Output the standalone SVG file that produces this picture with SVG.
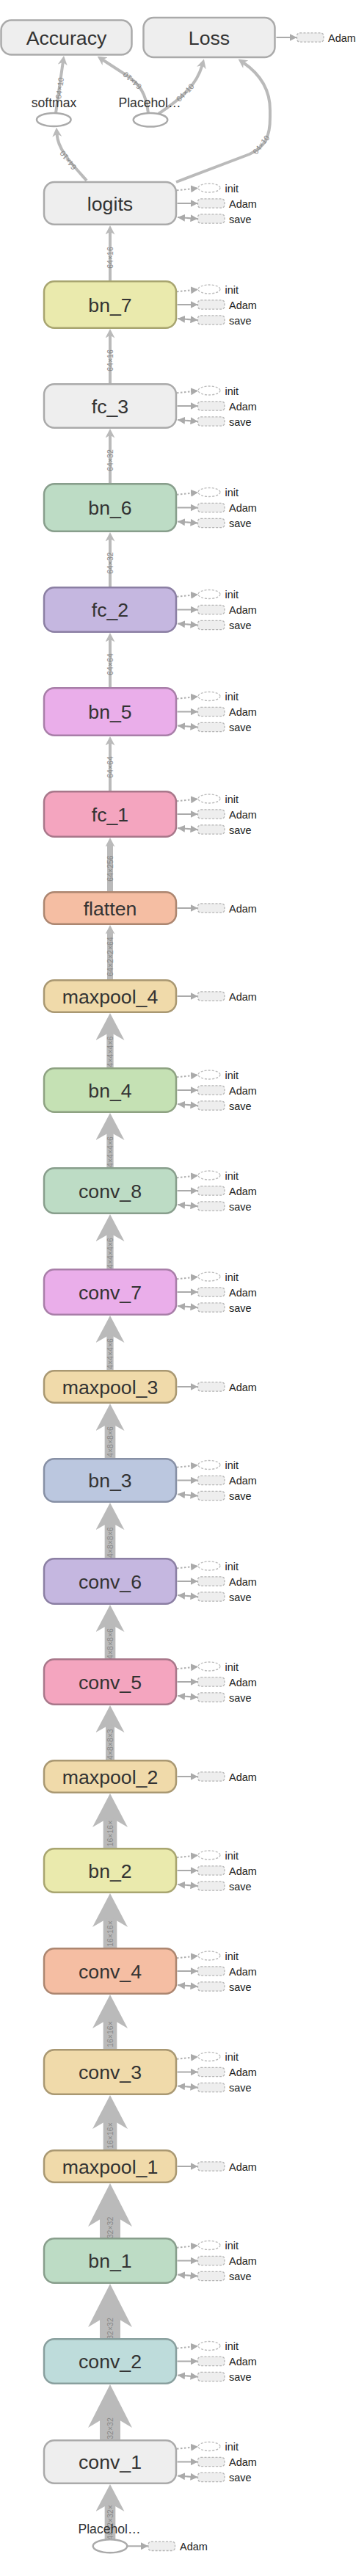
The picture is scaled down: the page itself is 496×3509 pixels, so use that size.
<svg xmlns="http://www.w3.org/2000/svg" width="496" height="3509" viewBox="0 0 496 3509">
<style>
.e{fill:none;stroke:#bababa}
.lb{font-family:"Liberation Sans",Arial,sans-serif;font-size:26.7px;fill:#333;text-anchor:middle}
.el{font-family:"Liberation Sans",Arial,sans-serif;font-size:10.5px;fill:#888;text-anchor:middle;dominant-baseline:central}
.ax{fill:#eee;stroke:#b5b5b5;stroke-width:1.3;stroke-dasharray:3 2}
.ai{fill:#fff;stroke:#bbb;stroke-width:1.3;stroke-dasharray:3 2}
.at{font-family:"Liberation Sans",Arial,sans-serif;font-size:14.5px;fill:#222}
.ot{font-family:"Liberation Sans",Arial,sans-serif;font-size:17.6px;fill:#333;text-anchor:middle}
.sl{fill:none;stroke:#aaa;stroke-width:2}
.sd{fill:none;stroke:#b0b0b0;stroke-width:2;stroke-dasharray:2.5 2.5}
.n rect{stroke-width:2.5}
.op{fill:#fff;stroke:#aaa;stroke-width:2.5}
.c0 rect{fill:#eee;stroke:#aaa}
.c1 rect{fill:#eaeaad;stroke:#a8a570}
.c2 rect{fill:#bddcc5;stroke:#889e8c}
.c3 rect{fill:#c5b7e0;stroke:#8b7fa3}
.c4 rect{fill:#eaaeea;stroke:#a87ea8}
.c5 rect{fill:#f4a5bf;stroke:#a8778a}
.c6 rect{fill:#f5bea3;stroke:#ac8670}
.c7 rect{fill:#f0daaa;stroke:#a99872}
.c8 rect{fill:#c5e1b4;stroke:#8ea282}
.c9 rect{fill:#bbc7df;stroke:#8790a5}
.c10 rect{fill:#bedcdb;stroke:#899f9e}
</style>
<defs>
<marker id="ms" viewBox="0 0 12.5 13" refX="3.75" refY="6.5" markerWidth="12.5" markerHeight="13" markerUnits="userSpaceOnUse" orient="auto"><path d="M0,0 L12.5,6.5 L0,13 L3.75,6.5z" fill="#bababa"/></marker>
<marker id="mm" viewBox="0 0 37 39" refX="11" refY="19.5" markerWidth="37" markerHeight="39" markerUnits="userSpaceOnUse" orient="auto"><path d="M0,0 L37,19.5 L0,39 L11,19.5z" fill="#bababa"/></marker>
<marker id="ml" viewBox="0 0 46 48" refX="14" refY="24" markerWidth="46" markerHeight="48" markerUnits="userSpaceOnUse" orient="auto"><path d="M0,0 L46,24 L0,48 L14,24z" fill="#bababa"/></marker>
<marker id="mx" viewBox="0 0 59 60" refX="18" refY="30" markerWidth="59" markerHeight="60" markerUnits="userSpaceOnUse" orient="auto"><path d="M0,0 L59,30 L0,60 L18,30z" fill="#bababa"/></marker>
<marker id="sa" viewBox="0 0 10 10" refX="10" refY="5" markerWidth="10" markerHeight="10" markerUnits="userSpaceOnUse" orient="auto-start-reverse"><path d="M0,0 L10,5 L0,10z" fill="#aaa"/></marker>
</defs>
<rect width="496" height="3509" fill="#fff"/>
<g id="edges">
<g stroke-width="4" class="e" marker-end="url(#ms)">
<path class="e" d="M118,246 C96,221 79,204 77.5,182.5"/>
<path class="e" d="M76,154 L85.8,84.7"/>
<path class="e" d="M202,154 C199,128 191,114 170,101 L140,81.5"/>
<path class="e" d="M216,155 C250,132 268,115 275.5,89"/>
<path class="e" d="M240,248 L340,210 C362,200 368,185 368,160 L368,150 C368,118 350,98 331.8,85.5"/>
<path class="e" d="M150,383 L150,315.75"/>
<path class="e" d="M150,523 L150,456.75"/>
<path class="e" d="M150,659 L150,592.75"/>
<path class="e" d="M150,800 L150,733.75"/>
<path class="e" d="M150,937 L150,870.75"/>
<path class="e" d="M150,1078 L150,1011.75"/>
<path class="e" stroke-width="8" d="M150,1215 L150,1149.75"/>
<path class="e" stroke-width="8" d="M150,1335 L150,1268.75"/>
</g>
<g class="e" marker-end="url(#mm)">
<path class="e" stroke-width="9.3" d="M150,1455 L150,1406"/>
<path class="e" stroke-width="9.3" d="M150,1591 L150,1542"/>
<path class="e" stroke-width="9.3" d="M150,1729 L150,1680"/>
<path class="e" stroke-width="9.3" d="M150,1867 L150,1818"/>
<path class="e" stroke-width="14.7" d="M150,1987 L150,1938"/>
<path class="e" stroke-width="14.7" d="M150,2123 L150,2073"/>
<path class="e" stroke-width="14.7" d="M150,2260 L150,2212"/>
<path class="e" stroke-width="12" d="M150,2398 L150,2349"/>
<path class="e" stroke-width="14.7" d="M150,3459 L150,3410"/>
</g>
<g class="e" stroke-width="18.7" marker-end="url(#ml)">
<path class="e" d="M150,2518 L150,2475"/>
<path class="e" d="M150,2654 L150,2611"/>
<path class="e" d="M150,2792 L150,2749"/>
<path class="e" d="M150,2929 L150,2886"/>
</g>
<g class="e" stroke-width="28" marker-end="url(#mx)">
<path class="e" d="M150,3049 L150,3015"/>
<path class="e" d="M150,3186 L150,3152"/>
<path class="e" d="M150,3324 L150,3289"/>
</g>
<g id="edge-labels">
<text class="el" transform="translate(92.5,218.5) rotate(-128)">64×10</text>
<text class="el" transform="translate(81,120) rotate(-82)">64×10</text>
<text class="el" transform="translate(180,110) rotate(-138)">64×10</text>
<text class="el" transform="translate(252,126) rotate(-45)">64×10</text>
<text class="el" transform="translate(355.5,197) rotate(-52)">64×10</text>
<text class="el" transform="translate(149.5,351) rotate(-90)">64×16</text>
<text class="el" transform="translate(149.5,491) rotate(-90)">64×16</text>
<text class="el" transform="translate(149.5,627) rotate(-90)">64×32</text>
<text class="el" transform="translate(149.5,767) rotate(-90)">64×32</text>
<text class="el" transform="translate(149.5,905) rotate(-90)">64×64</text>
<text class="el" transform="translate(149.5,1045) rotate(-90)">64×64</text>
<text class="el" transform="translate(149.5,1183) rotate(-90)">64×256</text>
<text class="el" transform="translate(149.5,1303) rotate(-90)">64×2×2×64</text>
<text class="el" transform="translate(149.5,1432.5) rotate(-90)">4×4×4×6</text>
<text class="el" transform="translate(149.5,1569) rotate(-90)">4×4×4×6</text>
<text class="el" transform="translate(149.5,1707) rotate(-90)">4×4×4×6</text>
<text class="el" transform="translate(149.5,1844) rotate(-90)">4×4×4×6</text>
<text class="el" transform="translate(149.5,1964) rotate(-90)">4×8×8×6</text>
<text class="el" transform="translate(149.5,2101) rotate(-90)">4×8×8×6</text>
<text class="el" transform="translate(149.5,2239) rotate(-90)">4×8×8×6</text>
<text class="el" transform="translate(149.5,2376) rotate(-90)">4×8×8×3</text>
<text class="el" transform="translate(149.5,2497.5) rotate(-90)">16×16×</text>
<text class="el" transform="translate(149.5,2634) rotate(-90)">16×16×</text>
<text class="el" transform="translate(149.5,2771) rotate(-90)">16×16×</text>
<text class="el" transform="translate(149.5,2909) rotate(-90)">16×16×</text>
<text class="el" transform="translate(149.5,3034.5) rotate(-90)">32×32</text>
<text class="el" transform="translate(149.5,3172) rotate(-90)">32×32</text>
<text class="el" transform="translate(149.5,3308) rotate(-90)">32×32</text>
<text class="el" transform="translate(149.5,3436) rotate(-90)">4×32×32×</text>
</g>
<g id="side-edges">
<path class="sl" d="M376.5,51 L404.5,51" marker-end="url(#sa)"/>
<path class="sl" d="M174,3468.3 L202,3468.3" marker-end="url(#sa)"/>
<g transform="translate(0,277)"><path class="sd" d="M241,-17.7 L270,-20.7" marker-end="url(#sa)"/><path class="sl" d="M241.5,0 L269.5,0" marker-end="url(#sa)"/><path class="sl" d="M242,19 L269.5,21" marker-start="url(#sa)" marker-end="url(#sa)"/></g>
<g transform="translate(0,415)"><path class="sd" d="M241,-17.7 L270,-20.7" marker-end="url(#sa)"/><path class="sl" d="M241.5,0 L269.5,0" marker-end="url(#sa)"/><path class="sl" d="M242,19 L269.5,21" marker-start="url(#sa)" marker-end="url(#sa)"/></g>
<g transform="translate(0,553)"><path class="sd" d="M241,-17.7 L270,-20.7" marker-end="url(#sa)"/><path class="sl" d="M241.5,0 L269.5,0" marker-end="url(#sa)"/><path class="sl" d="M242,19 L269.5,21" marker-start="url(#sa)" marker-end="url(#sa)"/></g>
<g transform="translate(0,691.5)"><path class="sd" d="M241,-17.7 L270,-20.7" marker-end="url(#sa)"/><path class="sl" d="M241.5,0 L269.5,0" marker-end="url(#sa)"/><path class="sl" d="M242,19 L269.5,21" marker-start="url(#sa)" marker-end="url(#sa)"/></g>
<g transform="translate(0,830.5)"><path class="sd" d="M241,-17.7 L270,-20.7" marker-end="url(#sa)"/><path class="sl" d="M241.5,0 L269.5,0" marker-end="url(#sa)"/><path class="sl" d="M242,19 L269.5,21" marker-start="url(#sa)" marker-end="url(#sa)"/></g>
<g transform="translate(0,969.5)"><path class="sd" d="M241,-17.7 L270,-20.7" marker-end="url(#sa)"/><path class="sl" d="M241.5,0 L269.5,0" marker-end="url(#sa)"/><path class="sl" d="M242,19 L269.5,21" marker-start="url(#sa)" marker-end="url(#sa)"/></g>
<g transform="translate(0,1109)"><path class="sd" d="M241,-17.7 L270,-20.7" marker-end="url(#sa)"/><path class="sl" d="M241.5,0 L269.5,0" marker-end="url(#sa)"/><path class="sl" d="M242,19 L269.5,21" marker-start="url(#sa)" marker-end="url(#sa)"/></g>
<g transform="translate(0,1237)"><path class="sl" d="M241.5,0 L269.5,0" marker-end="url(#sa)"/></g>
<g transform="translate(0,1357)"><path class="sl" d="M241.5,0 L269.5,0" marker-end="url(#sa)"/></g>
<g transform="translate(0,1485)"><path class="sd" d="M241,-17.7 L270,-20.7" marker-end="url(#sa)"/><path class="sl" d="M241.5,0 L269.5,0" marker-end="url(#sa)"/><path class="sl" d="M242,19 L269.5,21" marker-start="url(#sa)" marker-end="url(#sa)"/></g>
<g transform="translate(0,1622)"><path class="sd" d="M241,-17.7 L270,-20.7" marker-end="url(#sa)"/><path class="sl" d="M241.5,0 L269.5,0" marker-end="url(#sa)"/><path class="sl" d="M242,19 L269.5,21" marker-start="url(#sa)" marker-end="url(#sa)"/></g>
<g transform="translate(0,1760)"><path class="sd" d="M241,-17.7 L270,-20.7" marker-end="url(#sa)"/><path class="sl" d="M241.5,0 L269.5,0" marker-end="url(#sa)"/><path class="sl" d="M242,19 L269.5,21" marker-start="url(#sa)" marker-end="url(#sa)"/></g>
<g transform="translate(0,1889)"><path class="sl" d="M241.5,0 L269.5,0" marker-end="url(#sa)"/></g>
<g transform="translate(0,2016.5)"><path class="sd" d="M241,-17.7 L270,-20.7" marker-end="url(#sa)"/><path class="sl" d="M241.5,0 L269.5,0" marker-end="url(#sa)"/><path class="sl" d="M242,19 L269.5,21" marker-start="url(#sa)" marker-end="url(#sa)"/></g>
<g transform="translate(0,2154)"><path class="sd" d="M241,-17.7 L270,-20.7" marker-end="url(#sa)"/><path class="sl" d="M241.5,0 L269.5,0" marker-end="url(#sa)"/><path class="sl" d="M242,19 L269.5,21" marker-start="url(#sa)" marker-end="url(#sa)"/></g>
<g transform="translate(0,2291)"><path class="sd" d="M241,-17.7 L270,-20.7" marker-end="url(#sa)"/><path class="sl" d="M241.5,0 L269.5,0" marker-end="url(#sa)"/><path class="sl" d="M242,19 L269.5,21" marker-start="url(#sa)" marker-end="url(#sa)"/></g>
<g transform="translate(0,2420)"><path class="sl" d="M241.5,0 L269.5,0" marker-end="url(#sa)"/></g>
<g transform="translate(0,2548)"><path class="sd" d="M241,-17.7 L270,-20.7" marker-end="url(#sa)"/><path class="sl" d="M241.5,0 L269.5,0" marker-end="url(#sa)"/><path class="sl" d="M242,19 L269.5,21" marker-start="url(#sa)" marker-end="url(#sa)"/></g>
<g transform="translate(0,2685)"><path class="sd" d="M241,-17.7 L270,-20.7" marker-end="url(#sa)"/><path class="sl" d="M241.5,0 L269.5,0" marker-end="url(#sa)"/><path class="sl" d="M242,19 L269.5,21" marker-start="url(#sa)" marker-end="url(#sa)"/></g>
<g transform="translate(0,2822.5)"><path class="sd" d="M241,-17.7 L270,-20.7" marker-end="url(#sa)"/><path class="sl" d="M241.5,0 L269.5,0" marker-end="url(#sa)"/><path class="sl" d="M242,19 L269.5,21" marker-start="url(#sa)" marker-end="url(#sa)"/></g>
<g transform="translate(0,2951)"><path class="sl" d="M241.5,0 L269.5,0" marker-end="url(#sa)"/></g>
<g transform="translate(0,3079.5)"><path class="sd" d="M241,-17.7 L270,-20.7" marker-end="url(#sa)"/><path class="sl" d="M241.5,0 L269.5,0" marker-end="url(#sa)"/><path class="sl" d="M242,19 L269.5,21" marker-start="url(#sa)" marker-end="url(#sa)"/></g>
<g transform="translate(0,3216.5)"><path class="sd" d="M241,-17.7 L270,-20.7" marker-end="url(#sa)"/><path class="sl" d="M241.5,0 L269.5,0" marker-end="url(#sa)"/><path class="sl" d="M242,19 L269.5,21" marker-start="url(#sa)" marker-end="url(#sa)"/></g>
<g transform="translate(0,3353.5)"><path class="sd" d="M241,-17.7 L270,-20.7" marker-end="url(#sa)"/><path class="sl" d="M241.5,0 L269.5,0" marker-end="url(#sa)"/><path class="sl" d="M242,19 L269.5,21" marker-start="url(#sa)" marker-end="url(#sa)"/></g>
</g>
</g>
<g id="node-Accuracy" class="n c0"><rect x="1.5" y="27.5" width="178" height="47" rx="14"/><text class="lb" x="90.5" y="60.5">Accuracy</text></g>
<g id="node-Loss" class="n c0"><rect x="195.5" y="24" width="179" height="54" rx="14"/><text class="lb" x="285" y="60.5">Loss</text></g>
<g id="node-softmax"><ellipse class="op" cx="73.3" cy="163" rx="23.3" ry="9"/><text class="ot" x="73.5" y="145.7">softmax</text></g>
<g id="node-Placeholder_1"><ellipse class="op" cx="205" cy="163.3" rx="23.3" ry="9.3"/><text class="ot" x="204" y="145.7">Placehol…</text></g>
<g id="node-logits" class="n c0"><rect x="60" y="248" width="180" height="57.8" rx="14"/><text class="lb" x="150" y="286.5">logits</text></g>
<g id="node-bn_7" class="n c1"><rect x="60" y="383.2" width="180" height="63.6" rx="14"/><text class="lb" x="150" y="424.5">bn_7</text></g>
<g id="node-fc_3" class="n c0"><rect x="60" y="523.2" width="180" height="59.6" rx="14"/><text class="lb" x="150" y="562.5">fc_3</text></g>
<g id="node-bn_6" class="n c2"><rect x="60" y="659.2" width="180" height="64.6" rx="14"/><text class="lb" x="150" y="701">bn_6</text></g>
<g id="node-fc_2" class="n c3"><rect x="60" y="800.2" width="180" height="60.6" rx="14"/><text class="lb" x="150" y="840">fc_2</text></g>
<g id="node-bn_5" class="n c4"><rect x="60" y="937.2" width="180" height="64.6" rx="14"/><text class="lb" x="150" y="979">bn_5</text></g>
<g id="node-fc_1" class="n c5"><rect x="60" y="1078.2" width="180" height="61.6" rx="14"/><text class="lb" x="150" y="1118.5">fc_1</text></g>
<g id="node-flatten" class="n c6"><rect x="60" y="1215.2" width="180" height="43.6" rx="14"/><text class="lb" x="150" y="1246.5">flatten</text></g>
<g id="node-maxpool_4" class="n c7"><rect x="60" y="1335.2" width="180" height="43.6" rx="14"/><text class="lb" x="150" y="1366.5">maxpool_4</text></g>
<g id="node-bn_4" class="n c8"><rect x="60" y="1455.2" width="180" height="59.6" rx="14"/><text class="lb" x="150" y="1494.5">bn_4</text></g>
<g id="node-conv_8" class="n c2"><rect x="60" y="1591.2" width="180" height="61.6" rx="14"/><text class="lb" x="150" y="1631.5">conv_8</text></g>
<g id="node-conv_7" class="n c4"><rect x="60" y="1729.2" width="180" height="61.6" rx="14"/><text class="lb" x="150" y="1769.5">conv_7</text></g>
<g id="node-maxpool_3" class="n c7"><rect x="60" y="1867.2" width="180" height="43.6" rx="14"/><text class="lb" x="150" y="1898.5">maxpool_3</text></g>
<g id="node-bn_3" class="n c9"><rect x="60" y="1987.2" width="180" height="58.6" rx="14"/><text class="lb" x="150" y="2026">bn_3</text></g>
<g id="node-conv_6" class="n c3"><rect x="60" y="2123.2" width="180" height="61.6" rx="14"/><text class="lb" x="150" y="2163.5">conv_6</text></g>
<g id="node-conv_5" class="n c5"><rect x="60" y="2260.2" width="180" height="61.6" rx="14"/><text class="lb" x="150" y="2300.5">conv_5</text></g>
<g id="node-maxpool_2" class="n c7"><rect x="60" y="2398.2" width="180" height="43.6" rx="14"/><text class="lb" x="150" y="2429.5">maxpool_2</text></g>
<g id="node-bn_2" class="n c1"><rect x="60" y="2518.2" width="180" height="59.6" rx="14"/><text class="lb" x="150" y="2557.5">bn_2</text></g>
<g id="node-conv_4" class="n c6"><rect x="60" y="2654.2" width="180" height="61.6" rx="14"/><text class="lb" x="150" y="2694.5">conv_4</text></g>
<g id="node-conv_3" class="n c7"><rect x="60" y="2792.2" width="180" height="60.6" rx="14"/><text class="lb" x="150" y="2832">conv_3</text></g>
<g id="node-maxpool_1" class="n c7"><rect x="60" y="2929.2" width="180" height="43.6" rx="14"/><text class="lb" x="150" y="2960.5">maxpool_1</text></g>
<g id="node-bn_1" class="n c2"><rect x="60" y="3049.2" width="180" height="60.6" rx="14"/><text class="lb" x="150" y="3089">bn_1</text></g>
<g id="node-conv_2" class="n c10"><rect x="60" y="3186.2" width="180" height="60.6" rx="14"/><text class="lb" x="150" y="3226">conv_2</text></g>
<g id="node-conv_1" class="n c0"><rect x="60" y="3324.2" width="180" height="58.6" rx="14"/><text class="lb" x="150" y="3363">conv_1</text></g>
<g id="node-Placeholder"><ellipse class="op" cx="150" cy="3468.3" rx="23.3" ry="9"/><text class="ot" x="149" y="3450.7">Placehol…</text></g>
<g id="aux-Loss"><rect class="ax" x="404.5" y="44.8" width="36.5" height="12.4" rx="4"/><text class="at" x="447" y="56.5">Adam</text></g>
<g id="aux-Placeholder"><rect class="ax" x="202" y="3462.1" width="36.5" height="12.4" rx="4"/><text class="at" x="245" y="3473.5">Adam</text></g>
<g id="aux-logits" transform="translate(0,277)"><ellipse class="ai" cx="285" cy="-21" rx="15" ry="6"/><text class="at" x="306.5" y="-15.5">init</text><rect class="ax" x="269.5" y="-6.2" width="36.5" height="12.4" rx="4"/><text class="at" x="312" y="5.5">Adam</text><rect class="ax" x="269.5" y="14.8" width="36.5" height="12.4" rx="4"/><text class="at" x="312" y="26.5">save</text></g>
<g id="aux-bn_7" transform="translate(0,415)"><ellipse class="ai" cx="285" cy="-21" rx="15" ry="6"/><text class="at" x="306.5" y="-15.5">init</text><rect class="ax" x="269.5" y="-6.2" width="36.5" height="12.4" rx="4"/><text class="at" x="312" y="5.5">Adam</text><rect class="ax" x="269.5" y="14.8" width="36.5" height="12.4" rx="4"/><text class="at" x="312" y="26.5">save</text></g>
<g id="aux-fc_3" transform="translate(0,553)"><ellipse class="ai" cx="285" cy="-21" rx="15" ry="6"/><text class="at" x="306.5" y="-15.5">init</text><rect class="ax" x="269.5" y="-6.2" width="36.5" height="12.4" rx="4"/><text class="at" x="312" y="5.5">Adam</text><rect class="ax" x="269.5" y="14.8" width="36.5" height="12.4" rx="4"/><text class="at" x="312" y="26.5">save</text></g>
<g id="aux-bn_6" transform="translate(0,691.5)"><ellipse class="ai" cx="285" cy="-21" rx="15" ry="6"/><text class="at" x="306.5" y="-15.5">init</text><rect class="ax" x="269.5" y="-6.2" width="36.5" height="12.4" rx="4"/><text class="at" x="312" y="5.5">Adam</text><rect class="ax" x="269.5" y="14.8" width="36.5" height="12.4" rx="4"/><text class="at" x="312" y="26.5">save</text></g>
<g id="aux-fc_2" transform="translate(0,830.5)"><ellipse class="ai" cx="285" cy="-21" rx="15" ry="6"/><text class="at" x="306.5" y="-15.5">init</text><rect class="ax" x="269.5" y="-6.2" width="36.5" height="12.4" rx="4"/><text class="at" x="312" y="5.5">Adam</text><rect class="ax" x="269.5" y="14.8" width="36.5" height="12.4" rx="4"/><text class="at" x="312" y="26.5">save</text></g>
<g id="aux-bn_5" transform="translate(0,969.5)"><ellipse class="ai" cx="285" cy="-21" rx="15" ry="6"/><text class="at" x="306.5" y="-15.5">init</text><rect class="ax" x="269.5" y="-6.2" width="36.5" height="12.4" rx="4"/><text class="at" x="312" y="5.5">Adam</text><rect class="ax" x="269.5" y="14.8" width="36.5" height="12.4" rx="4"/><text class="at" x="312" y="26.5">save</text></g>
<g id="aux-fc_1" transform="translate(0,1109)"><ellipse class="ai" cx="285" cy="-21" rx="15" ry="6"/><text class="at" x="306.5" y="-15.5">init</text><rect class="ax" x="269.5" y="-6.2" width="36.5" height="12.4" rx="4"/><text class="at" x="312" y="5.5">Adam</text><rect class="ax" x="269.5" y="14.8" width="36.5" height="12.4" rx="4"/><text class="at" x="312" y="26.5">save</text></g>
<g id="aux-flatten" transform="translate(0,1237)"><rect class="ax" x="269.5" y="-6.2" width="36.5" height="12.4" rx="4"/><text class="at" x="312" y="5.5">Adam</text></g>
<g id="aux-maxpool_4" transform="translate(0,1357)"><rect class="ax" x="269.5" y="-6.2" width="36.5" height="12.4" rx="4"/><text class="at" x="312" y="5.5">Adam</text></g>
<g id="aux-bn_4" transform="translate(0,1485)"><ellipse class="ai" cx="285" cy="-21" rx="15" ry="6"/><text class="at" x="306.5" y="-15.5">init</text><rect class="ax" x="269.5" y="-6.2" width="36.5" height="12.4" rx="4"/><text class="at" x="312" y="5.5">Adam</text><rect class="ax" x="269.5" y="14.8" width="36.5" height="12.4" rx="4"/><text class="at" x="312" y="26.5">save</text></g>
<g id="aux-conv_8" transform="translate(0,1622)"><ellipse class="ai" cx="285" cy="-21" rx="15" ry="6"/><text class="at" x="306.5" y="-15.5">init</text><rect class="ax" x="269.5" y="-6.2" width="36.5" height="12.4" rx="4"/><text class="at" x="312" y="5.5">Adam</text><rect class="ax" x="269.5" y="14.8" width="36.5" height="12.4" rx="4"/><text class="at" x="312" y="26.5">save</text></g>
<g id="aux-conv_7" transform="translate(0,1760)"><ellipse class="ai" cx="285" cy="-21" rx="15" ry="6"/><text class="at" x="306.5" y="-15.5">init</text><rect class="ax" x="269.5" y="-6.2" width="36.5" height="12.4" rx="4"/><text class="at" x="312" y="5.5">Adam</text><rect class="ax" x="269.5" y="14.8" width="36.5" height="12.4" rx="4"/><text class="at" x="312" y="26.5">save</text></g>
<g id="aux-maxpool_3" transform="translate(0,1889)"><rect class="ax" x="269.5" y="-6.2" width="36.5" height="12.4" rx="4"/><text class="at" x="312" y="5.5">Adam</text></g>
<g id="aux-bn_3" transform="translate(0,2016.5)"><ellipse class="ai" cx="285" cy="-21" rx="15" ry="6"/><text class="at" x="306.5" y="-15.5">init</text><rect class="ax" x="269.5" y="-6.2" width="36.5" height="12.4" rx="4"/><text class="at" x="312" y="5.5">Adam</text><rect class="ax" x="269.5" y="14.8" width="36.5" height="12.4" rx="4"/><text class="at" x="312" y="26.5">save</text></g>
<g id="aux-conv_6" transform="translate(0,2154)"><ellipse class="ai" cx="285" cy="-21" rx="15" ry="6"/><text class="at" x="306.5" y="-15.5">init</text><rect class="ax" x="269.5" y="-6.2" width="36.5" height="12.4" rx="4"/><text class="at" x="312" y="5.5">Adam</text><rect class="ax" x="269.5" y="14.8" width="36.5" height="12.4" rx="4"/><text class="at" x="312" y="26.5">save</text></g>
<g id="aux-conv_5" transform="translate(0,2291)"><ellipse class="ai" cx="285" cy="-21" rx="15" ry="6"/><text class="at" x="306.5" y="-15.5">init</text><rect class="ax" x="269.5" y="-6.2" width="36.5" height="12.4" rx="4"/><text class="at" x="312" y="5.5">Adam</text><rect class="ax" x="269.5" y="14.8" width="36.5" height="12.4" rx="4"/><text class="at" x="312" y="26.5">save</text></g>
<g id="aux-maxpool_2" transform="translate(0,2420)"><rect class="ax" x="269.5" y="-6.2" width="36.5" height="12.4" rx="4"/><text class="at" x="312" y="5.5">Adam</text></g>
<g id="aux-bn_2" transform="translate(0,2548)"><ellipse class="ai" cx="285" cy="-21" rx="15" ry="6"/><text class="at" x="306.5" y="-15.5">init</text><rect class="ax" x="269.5" y="-6.2" width="36.5" height="12.4" rx="4"/><text class="at" x="312" y="5.5">Adam</text><rect class="ax" x="269.5" y="14.8" width="36.5" height="12.4" rx="4"/><text class="at" x="312" y="26.5">save</text></g>
<g id="aux-conv_4" transform="translate(0,2685)"><ellipse class="ai" cx="285" cy="-21" rx="15" ry="6"/><text class="at" x="306.5" y="-15.5">init</text><rect class="ax" x="269.5" y="-6.2" width="36.5" height="12.4" rx="4"/><text class="at" x="312" y="5.5">Adam</text><rect class="ax" x="269.5" y="14.8" width="36.5" height="12.4" rx="4"/><text class="at" x="312" y="26.5">save</text></g>
<g id="aux-conv_3" transform="translate(0,2822.5)"><ellipse class="ai" cx="285" cy="-21" rx="15" ry="6"/><text class="at" x="306.5" y="-15.5">init</text><rect class="ax" x="269.5" y="-6.2" width="36.5" height="12.4" rx="4"/><text class="at" x="312" y="5.5">Adam</text><rect class="ax" x="269.5" y="14.8" width="36.5" height="12.4" rx="4"/><text class="at" x="312" y="26.5">save</text></g>
<g id="aux-maxpool_1" transform="translate(0,2951)"><rect class="ax" x="269.5" y="-6.2" width="36.5" height="12.4" rx="4"/><text class="at" x="312" y="5.5">Adam</text></g>
<g id="aux-bn_1" transform="translate(0,3079.5)"><ellipse class="ai" cx="285" cy="-21" rx="15" ry="6"/><text class="at" x="306.5" y="-15.5">init</text><rect class="ax" x="269.5" y="-6.2" width="36.5" height="12.4" rx="4"/><text class="at" x="312" y="5.5">Adam</text><rect class="ax" x="269.5" y="14.8" width="36.5" height="12.4" rx="4"/><text class="at" x="312" y="26.5">save</text></g>
<g id="aux-conv_2" transform="translate(0,3216.5)"><ellipse class="ai" cx="285" cy="-21" rx="15" ry="6"/><text class="at" x="306.5" y="-15.5">init</text><rect class="ax" x="269.5" y="-6.2" width="36.5" height="12.4" rx="4"/><text class="at" x="312" y="5.5">Adam</text><rect class="ax" x="269.5" y="14.8" width="36.5" height="12.4" rx="4"/><text class="at" x="312" y="26.5">save</text></g>
<g id="aux-conv_1" transform="translate(0,3353.5)"><ellipse class="ai" cx="285" cy="-21" rx="15" ry="6"/><text class="at" x="306.5" y="-15.5">init</text><rect class="ax" x="269.5" y="-6.2" width="36.5" height="12.4" rx="4"/><text class="at" x="312" y="5.5">Adam</text><rect class="ax" x="269.5" y="14.8" width="36.5" height="12.4" rx="4"/><text class="at" x="312" y="26.5">save</text></g>
</svg>
